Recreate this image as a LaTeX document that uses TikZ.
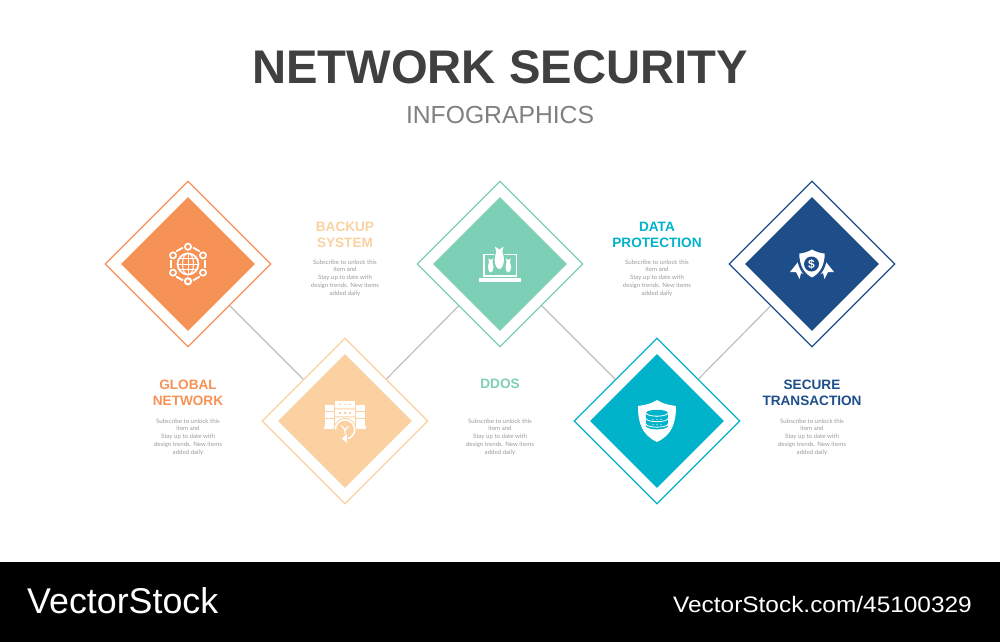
\documentclass[tikz,border=0pt]{standalone}
\usepackage{fontspec}
\setmainfont{Liberation Sans}
\newfontfamily\bodyfont{Lato}
\newfontfamily\urlfont[FakeStretch=1.09]{Liberation Sans}
\usetikzlibrary{shapes.geometric}
\definecolor{orangec}{HTML}{F79256}
\definecolor{peachc}{HTML}{FBD1A2}
\definecolor{mintc}{HTML}{7DCFB6}
\definecolor{tealc}{HTML}{00B2CA}
\definecolor{navyc}{HTML}{1D4E89}

\begin{document}
\begin{tikzpicture}[x=1pt,y=1pt,node distance=222pt,
  outer node/.style={diamond,draw=#1,fill=white,line width=1.2pt,inner sep=0pt,minimum width=166pt,minimum height=166pt},
  inner node/.style={diamond,fill=#1,inner sep=0pt,minimum width=134pt,minimum height=134pt},
  title node/.style={font=\fontsize{13.6}{16}\selectfont\bfseries,text=#1,align=center,inner sep=0pt},
  body node/.style={font=\bodyfont\fontsize{6.1}{7.75}\selectfont,text=black!40,align=center,inner sep=0pt},
  link/.style={draw=black!25,line width=1.2pt},
  icon/.style={white,line width=1.7pt}]

  \useasboundingbox (0,0) rectangle (1000,-642);
  \fill[black] (0,-562) rectangle (1000,-642);

  \node[font=\fontsize{47.2}{50}\selectfont\bfseries,text=black!75,inner sep=0pt] (head) at (500,-67) {NETWORK SECURITY};
  \node[font=\fontsize{24.7}{28}\selectfont,text=black!50,inner sep=0pt] (sub) at (500,-115) {INFOGRAPHICS};

  \node[outer node=orangec] (globe) at (188,-264) {};
  \node[outer node=peachc] (backup) [below right of=globe] {};
  \node[outer node=mintc] (ddos) [right of=globe,node distance=312pt] {};
  \node[outer node=tealc] (data) [right of=backup,node distance=312pt] {};
  \node[outer node=navyc] (secure) [right of=ddos,node distance=312pt] {};

  \node[inner node=orangec] (globein) at (globe) {};
  \node[inner node=peachc] (backupin) at (backup) {};
  \node[inner node=mintc] (ddosin) at (ddos) {};
  \node[inner node=tealc] (datain) at (data) {};
  \node[inner node=navyc] (securein) at (secure) {};

  \path[link]
    (globe) edge (backup)
    (backup) edge (ddos)
    (ddos) edge (data)
    (data) edge (secure);

  % titles
  \node[title node=orangec] (globetitle) [below of=globe,node distance=129pt] {GLOBAL\\NETWORK};
  \node[title node=peachc] (backuptitle) [above of=backup,node distance=186.5pt] {BACKUP\\SYSTEM};
  \node[title node=mintc] (ddostitle) [below of=ddos,node distance=120pt] {DDOS};
  \node[title node=tealc] (datatitle) [above of=data,node distance=186.5pt] {DATA\\PROTECTION};
  \node[title node=navyc] (securetitle) [below of=secure,node distance=129pt] {SECURE\\TRANSACTION};

  \node[body node] (globebody) [below of=globe,node distance=173pt] {Subscribe to unlock this\\item and\\Stay up to date with\\design trends. New items\\added daily};
  \node[body node] (backupbody) [above of=backup,node distance=143pt] {Subscribe to unlock this\\item and\\Stay up to date with\\design trends. New items\\added daily};
  \node[body node] (ddosbody) [below of=ddos,node distance=173pt] {Subscribe to unlock this\\item and\\Stay up to date with\\design trends. New items\\added daily};
  \node[body node] (databody) [above of=data,node distance=143pt] {Subscribe to unlock this\\item and\\Stay up to date with\\design trends. New items\\added daily};
  \node[body node] (securebody) [below of=secure,node distance=173pt] {Subscribe to unlock this\\item and\\Stay up to date with\\design trends. New items\\added daily};

  % globe icon
  \begin{scope}[shift={(globe)},y=-1pt,icon]
    \draw (0,0) circle (10.5);
    \draw[line width=1pt] (0,-11) -- (0,11) (-11,0) -- (11,0) (-9.5,-5.5) -- (9.5,-5.5) (-9.5,5.5) -- (9.5,5.5);
    \draw[line width=1pt] (0,0) ellipse (5.5 and 11);
    \foreach \a in {90,150,...,450} {
      \draw (\a:17.3) circle (3.1);
      \draw (\a+17:17.2) -- (\a+43:17.2);
    }
  \end{scope}

  % backup icon
  \begin{scope}[shift={(backup)},y=-1pt]
    \fill[white] (-10,-20) rectangle (10,3);
    \fill[white] (-20,-16) rectangle (-11,5);
    \fill[white] (11,-16) rectangle (20,5);
    \fill[white] (-21,5.5) rectangle (21,8);
    \foreach \y in {-16.5,-8} \foreach \x in {-5,0,5}
      \fill[peachc] (\x-.8,\y-.8) rectangle (\x+.8,\y+.8);
    \foreach \x in {-20,11}
      \foreach \y in {-10,-3} \fill[peachc] (\x,\y) rectangle (\x+9,\y+1);
    \fill[peachc] (-10,-12.7) rectangle (10,-11.7) (-10,-4.5) rectangle (10,-3.5);
    \fill[peachc] (0,8.5) circle (11.5);
    \draw[white,line width=1.6pt] (-9.7,8.5) arc (180:430:9.7);
    \draw[white,line width=1.3pt] (0,9) -- (-3.5,4.5) (0,9) -- (3.5,5.5) (0,9) -- (0,13);
    \fill[white] (-3,17.5) -- (2,13) -- (2,22) -- cycle;
  \end{scope}

  % ddos icon
  \begin{scope}[shift={(ddos)},y=-1pt]
    \draw[white,line width=1.5pt] (-16,12) -- (-16,-9.5) -- (16.5,-9.5) -- (16.5,12) -- cycle;
    \fill[white] (-20.7,14.3) rectangle (20.7,17.7);
    \fill[mintc] (-0.7,-4) ellipse (6 and 11);
    \fill[white] (-0.7,-4.5) ellipse (4.6 and 9.5);
    \fill[mintc] (-6,-17) rectangle (5,-13);
    \fill[white] (-5,-17.5) -- (-0.7,-14.5) -- (3.6,-17.5) -- (2,-11) -- (-3.4,-11) -- cycle;
    \foreach \x in {-9.3,8.3} {
      \fill[white] (\x,3) ellipse (2.8 and 5.6);
      \fill[white] (\x-2.4,-5.5) -- (\x,-4) -- (\x+2.4,-5.5) -- (\x+1.5,-1) -- (\x-1.5,-1) -- cycle;
    }
  \end{scope}

  % shield icon
  \begin{scope}[shift={(data)},y=-1pt]
    \fill[white] (0,-21) .. controls (6,-17) and (12,-16) .. (19,-15)
      .. controls (19,2) and (15,14) .. (0,21)
      .. controls (-15,14) and (-19,2) .. (-19,-15)
      .. controls (-12,-16) and (-6,-17) .. cycle;
    \fill[tealc] (-11,-8) -- (-11,5) arc (180:0:11 and 3.4) -- (11,-8) arc (0:180:11 and 3.4);
    \fill[tealc] (0,-8) ellipse (11 and 3.2);
    \foreach \y in {-7,-1.5,4}
      \draw[white,line width=.8pt] (-11,\y-1) arc (180:0:11 and 3.2);
    \foreach \y in {-1.5,3.8} \foreach \x in {-4,0,4}
      \fill[white] (\x,\y) circle (.6);
  \end{scope}

  % secure icon
  \begin{scope}[shift={(secure)},y=-1pt]
    \fill[white] (-22,8) -- (-14,-2) -- (-6,11) -- (-11,9) -- (-12.5,15) -- (-16,8) -- cycle;
    \fill[white] (22,8) -- (14,-2) -- (6,11) -- (11,9) -- (12.5,15) -- (16,8) -- cycle;
    \fill[white,draw=navyc,line width=2.4pt] (0,-16) .. controls (4,-13.5) and (9,-12) .. (14,-11.5)
      .. controls (14,1) and (10,10) .. (0,15)
      .. controls (-10,10) and (-14,1) .. (-14,-11.5)
      .. controls (-9,-12) and (-4,-13.5) .. cycle;
    \node[circle,fill=navyc,minimum size=15pt,inner sep=0pt,text=white,font=\fontsize{12}{12}\selectfont\bfseries] (dollar) at (-0.5,0) {\$};
  \end{scope}

  \node[font=\fontsize{35.8}{38}\selectfont,text=white,inner sep=0pt,anchor=west] (logo) at (27,-601) {VectorStock};
  \node[font=\urlfont\fontsize{22.4}{24}\selectfont,text=white,inner sep=0pt,anchor=east] (url) at (972,-604) {VectorStock.com/45100329};

\end{tikzpicture}
\end{document}
